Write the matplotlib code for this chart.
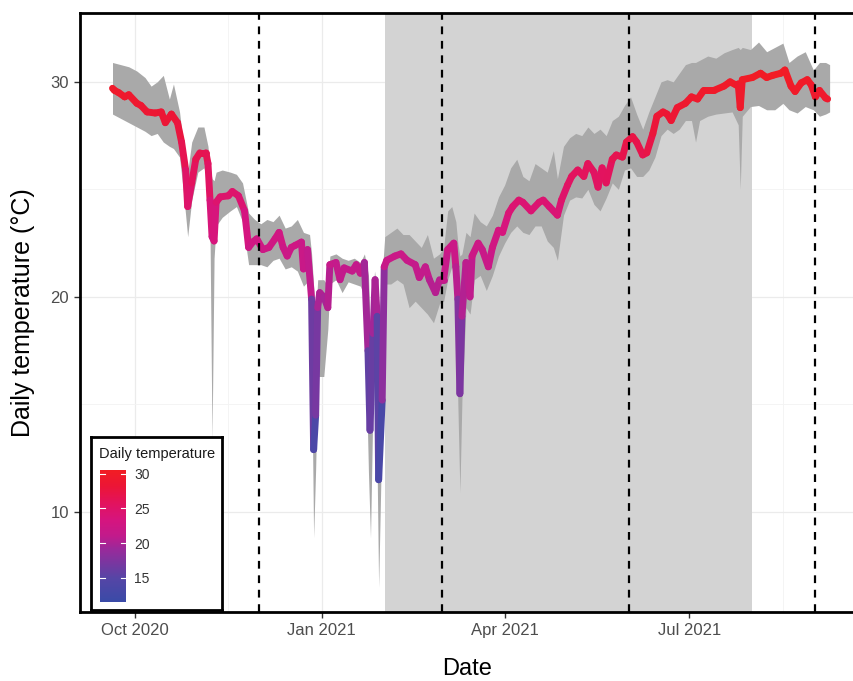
import matplotlib
matplotlib.use("Agg")
import matplotlib.pyplot as plt
import matplotlib.dates as mdates
from matplotlib.collections import LineCollection
from matplotlib.colors import LinearSegmentedColormap, Normalize
import numpy as np
import pandas as pd

plt.rcParams['font.family'] = ['Liberation Sans', 'DejaVu Sans']

# daily mean temperature (line)
line_dates = [
    "2020-09-20", "2020-09-21", "2020-09-23", "2020-09-26", "2020-09-28", "2020-10-02",
    "2020-10-04", "2020-10-07", "2020-10-11", "2020-10-14", "2020-10-16", "2020-10-19",
    "2020-10-22", "2020-10-24", "2020-10-26", "2020-10-27", "2020-10-29", "2020-10-31",
    "2020-11-02", "2020-11-05", "2020-11-06", "2020-11-07", "2020-11-08", "2020-11-09",
    "2020-11-10", "2020-11-12", "2020-11-16", "2020-11-18", "2020-11-21", "2020-11-24",
    "2020-11-26", "2020-11-28", "2020-11-30", "2020-12-03", "2020-12-06", "2020-12-09",
    "2020-12-11", "2020-12-13", "2020-12-15", "2020-12-17", "2020-12-19", "2020-12-22",
    "2020-12-23", "2020-12-25", "2020-12-27", "2020-12-28", "2020-12-29", "2020-12-30",
    "2020-12-31", "2021-01-02", "2021-01-04", "2021-01-05", "2021-01-08", "2021-01-10",
    "2021-01-12", "2021-01-16", "2021-01-18", "2021-01-20", "2021-01-22",
    "2021-01-23 18:00", "2021-01-24 18:00", "2021-01-26 06:00", "2021-01-27 06:00",
    "2021-01-28 06:00", "2021-01-29 00:00", "2021-01-30 18:00", "2021-01-31 18:00",
    "2021-02-02", "2021-02-06", "2021-02-09", "2021-02-12", "2021-02-16", "2021-02-18",
    "2021-02-21", "2021-02-23", "2021-02-26", "2021-02-28", "2021-03-02", "2021-03-04",
    "2021-03-07", "2021-03-08", "2021-03-09", "2021-03-10", "2021-03-11", "2021-03-13",
    "2021-03-15", "2021-03-16", "2021-03-19", "2021-03-21", "2021-03-24", "2021-03-26",
    "2021-03-29", "2021-03-31", "2021-04-03", "2021-04-05", "2021-04-08", "2021-04-10",
    "2021-04-14", "2021-04-18", "2021-04-20", "2021-04-23", "2021-04-27", "2021-04-29",
    "2021-05-02", "2021-05-04", "2021-05-07", "2021-05-10", "2021-05-12", "2021-05-15",
    "2021-05-17", "2021-05-19", "2021-05-21", "2021-05-24", "2021-05-26", "2021-05-29",
    "2021-05-31", "2021-06-03", "2021-06-05", "2021-06-08", "2021-06-10", "2021-06-13",
    "2021-06-15", "2021-06-18", "2021-06-20", "2021-06-22", "2021-06-25", "2021-06-29",
    "2021-07-02", "2021-07-05", "2021-07-08", "2021-07-13", "2021-07-18", "2021-07-21",
    "2021-07-24", "2021-07-25", "2021-07-26", "2021-07-27", "2021-08-01", "2021-08-05",
    "2021-08-08", "2021-08-11", "2021-08-15", "2021-08-17", "2021-08-20", "2021-08-22",
    "2021-08-25", "2021-08-28", "2021-08-30", "2021-09-01", "2021-09-03", "2021-09-06",
    "2021-09-07",
]
temp_mean = [
    29.7, 29.6, 29.5, 29.3, 29.4, 29.0,
    28.9, 28.6, 28.55, 28.6, 28.1, 28.5,
    28.1, 27.2, 25.9, 24.2, 25.3, 26.4,
    26.7, 26.7, 26.2, 24.5, 22.8, 22.6,
    24.4, 24.65, 24.7, 24.9, 24.7, 24.0,
    22.3, 22.55, 22.7, 22.2, 22.3, 22.7,
    23.0, 22.3, 21.9, 22.3, 22.4, 22.55,
    21.3, 22.2, 19.9, 12.9, 14.5, 19.5,
    20.2, 20.0, 19.5, 21.5, 21.6, 20.8,
    21.35, 21.2, 21.5, 21.1, 21.6,
    17.5, 13.8, 18.3, 20.8,
    19.1, 11.5, 15.2, 21.4,
    21.7, 21.9, 22.0, 21.7, 21.5, 20.9,
    21.4, 20.8, 20.2, 20.8, 20.8, 22.2,
    22.5, 21.4, 19.9, 15.5, 19.1, 21.6,
    20.0, 21.9, 22.5, 22.2, 21.4, 22.3,
    23.1, 23.0, 23.9, 24.2, 24.5, 24.4,
    24.0, 24.4, 24.5, 24.2, 23.8, 24.5,
    25.2, 25.6, 25.9, 25.6, 26.2, 25.8,
    25.1, 26.0, 25.3, 26.4, 26.6, 26.5,
    27.2, 27.45, 27.2, 26.6, 26.7, 27.6,
    28.4, 28.6, 28.5, 28.2, 28.8, 29.0,
    29.3, 29.2, 29.6, 29.6, 29.8, 30.0,
    29.85, 29.9, 28.8, 30.1, 30.2, 30.4,
    30.2, 30.3, 30.4, 30.55, 29.8, 29.55,
    29.95, 30.1, 29.85, 29.3, 29.6, 29.25,
    29.2,
]

# min / max envelope (grey ribbon)
band_dates = [
    "2020-09-20", "2020-09-24", "2020-09-28", "2020-10-02", "2020-10-06", "2020-10-09",
    "2020-10-12", "2020-10-15", "2020-10-18", "2020-10-20", "2020-10-23", "2020-10-25",
    "2020-10-27", "2020-10-29", "2020-11-01", "2020-11-04", "2020-11-06", "2020-11-07",
    "2020-11-08", "2020-11-09", "2020-11-10", "2020-11-13", "2020-11-17", "2020-11-20",
    "2020-11-23", "2020-11-26", "2020-11-29", "2020-12-02", "2020-12-05", "2020-12-08",
    "2020-12-11", "2020-12-14", "2020-12-17", "2020-12-20", "2020-12-23", "2020-12-26",
    "2020-12-27", "2020-12-28", "2020-12-29", "2020-12-30", "2021-01-02", "2021-01-04",
    "2021-01-05", "2021-01-08", "2021-01-11", "2021-01-14", "2021-01-17", "2021-01-20",
    "2021-01-22", "2021-01-24", "2021-01-25", "2021-01-26", "2021-01-27", "2021-01-28",
    "2021-01-29", "2021-01-30", "2021-02-01", "2021-02-04", "2021-02-07", "2021-02-10",
    "2021-02-13", "2021-02-16", "2021-02-19", "2021-02-22", "2021-02-25", "2021-02-28",
    "2021-03-02", "2021-03-04", "2021-03-06", "2021-03-08", "2021-03-09", "2021-03-10",
    "2021-03-11", "2021-03-13", "2021-03-15", "2021-03-17", "2021-03-20", "2021-03-23",
    "2021-03-26", "2021-03-29", "2021-04-01", "2021-04-04", "2021-04-07", "2021-04-10",
    "2021-04-13", "2021-04-16", "2021-04-19", "2021-04-22", "2021-04-25", "2021-04-27",
    "2021-04-30", "2021-05-03", "2021-05-06", "2021-05-09", "2021-05-12", "2021-05-15",
    "2021-05-18", "2021-05-21", "2021-05-24", "2021-05-27", "2021-05-30", "2021-06-02",
    "2021-06-05", "2021-06-08", "2021-06-11", "2021-06-14", "2021-06-17", "2021-06-20",
    "2021-06-23", "2021-06-26", "2021-06-29", "2021-07-02", "2021-07-04", "2021-07-06",
    "2021-07-10", "2021-07-14", "2021-07-18", "2021-07-22", "2021-07-25", "2021-07-26",
    "2021-07-27", "2021-07-31", "2021-08-04", "2021-08-08", "2021-08-12", "2021-08-16",
    "2021-08-19", "2021-08-23", "2021-08-27", "2021-08-31", "2021-09-03", "2021-09-06",
    "2021-09-08",
]
temp_min = [
    28.5, 28.3, 28.1, 27.9, 27.7, 27.5,
    27.6, 27.2, 27.0, 26.9, 26.5, 24.8,
    22.8, 24.5, 25.8, 26.0, 25.4, 23.0,
    13.3, 21.8, 23.3, 23.7, 24.0, 24.2,
    23.5, 21.5, 21.5, 21.5, 21.4, 21.7,
    21.8, 21.3, 21.4, 21.2, 20.5, 20.8,
    17.0, 8.8, 12.0, 16.3, 16.3, 18.5,
    20.6, 20.8, 20.2, 20.7, 20.6, 20.5,
    20.0, 11.8, 8.8, 14.0, 19.5, 14.0,
    6.5, 11.0, 20.6, 20.6, 20.8, 20.6,
    19.5, 19.8, 19.5, 19.2, 18.8, 19.7,
    19.8, 20.8, 21.4, 20.5, 15.0, 10.9,
    15.2, 19.5, 19.2, 20.8, 21.0, 20.3,
    21.0, 21.9, 22.5, 23.0, 23.3, 23.0,
    22.9, 23.3, 23.3, 22.6, 22.3, 21.7,
    23.8, 24.5, 24.65, 24.6, 25.0, 24.3,
    24.0, 24.6, 25.3, 25.0, 25.9, 26.0,
    25.6, 25.6, 25.9, 26.5, 27.5, 27.8,
    27.6, 27.8, 28.2, 28.2, 27.2, 28.2,
    28.4, 28.5, 28.55, 28.6, 28.0, 25.0,
    28.4, 28.85, 28.9, 28.7, 28.7, 29.0,
    28.7, 28.55, 28.85, 28.7, 28.4, 28.5,
    28.6,
]
temp_max = [
    30.9, 30.8, 30.7, 30.5, 30.2, 29.8,
    30.0, 30.3, 29.2, 29.9, 28.6, 27.0,
    25.8, 27.2, 27.9, 27.9, 27.0, 26.0,
    25.5, 25.4, 25.8, 25.9, 25.8, 25.7,
    25.3, 23.9, 23.6, 23.4, 23.6, 23.5,
    23.8, 23.2, 23.3, 23.6, 23.0, 22.9,
    22.0, 20.5, 19.0, 20.8, 20.8, 20.5,
    21.9, 22.0, 21.8, 21.7, 21.8, 21.6,
    22.0, 21.0, 18.0, 20.0, 21.2, 20.5,
    17.5, 20.0, 22.8, 23.0, 23.2, 22.9,
    22.9, 22.6, 22.3, 22.9, 21.8, 22.0,
    22.3, 24.0, 24.2, 23.5, 22.5, 21.9,
    22.0, 23.0, 22.8, 23.9, 23.5, 23.3,
    23.8, 24.65, 25.2, 26.0, 26.4, 25.6,
    25.4, 26.2, 26.0, 25.8, 26.8, 25.5,
    27.0, 27.4, 27.6, 27.5, 27.9, 27.6,
    27.8, 27.5, 28.2, 28.4, 28.9, 29.3,
    28.5, 27.8, 28.6, 29.3, 30.0, 30.1,
    30.0, 30.4, 30.8, 30.9, 30.9, 31.0,
    31.2, 31.1, 31.35, 31.5, 31.6, 31.5,
    31.6, 31.5, 31.85, 31.4, 31.6, 31.8,
    30.9, 31.2, 31.4, 30.55, 30.9, 30.9,
    30.8,
]

season_breaks = ["2020-12-01", "2021-03-01", "2021-06-01", "2021-09-01"]
shade_start, shade_end = "2021-02-01", "2021-08-01"
legend_ticks = [15, 20, 25, 30]

x_line = mdates.date2num(pd.to_datetime(line_dates, format="mixed"))
y_line = np.array(temp_mean)
x_band = mdates.date2num(pd.to_datetime(band_dates, format="mixed"))

cmap = LinearSegmentedColormap.from_list("temp", [
    (0.0, "#3A4BA8"), (0.18, "#5646A6"), (0.40, "#9A2A9B"),
    (0.50, "#C21B8C"), (0.62, "#D6157F"), (0.75, "#E3135E"),
    (0.88, "#EC1636"), (1.0, "#F21D24")])
norm = Normalize(vmin=y_line.min(), vmax=y_line.max())

fig = plt.figure(figsize=(8.54, 6.81), dpi=100)
ax = fig.add_axes([80 / 854, 1 - 612 / 681, 1 - 80 / 854, (612 - 13) / 681])

# grid
for d in ["2020-10-01", "2021-01-01", "2021-04-01", "2021-07-01"]:
    ax.axvline(mdates.datestr2num(d), color="#EBEBEB", lw=0.9, zorder=0)
for d in ["2020-11-16", "2021-02-15", "2021-05-16", "2021-08-16"]:
    ax.axvline(mdates.datestr2num(d), color="#F3F3F3", lw=0.6, zorder=0)
for v in [10, 20, 30]:
    ax.axhline(v, color="#EBEBEB", lw=0.9, zorder=0)
for v in [15, 25]:
    ax.axhline(v, color="#F3F3F3", lw=0.6, zorder=0)

ax.axvspan(mdates.datestr2num(shade_start), mdates.datestr2num(shade_end),
           color="#D3D3D3", lw=0, zorder=1)
ax.fill_between(x_band, temp_min, temp_max, color="#A9A9A9", lw=0, zorder=2)

pts = np.column_stack([x_line, y_line]).reshape(-1, 1, 2)
segs = np.concatenate([pts[:-1], pts[1:]], axis=1)
lc = LineCollection(segs, cmap=cmap, norm=norm, linewidths=5,
                    capstyle="round", joinstyle="round", zorder=3)
lc.set_array((y_line[:-1] + y_line[1:]) / 2)
ax.add_collection(lc)

for d in season_breaks:
    ax.axvline(mdates.datestr2num(d), color="black", lw=1.6,
               linestyle=(0, (3.5, 3)), zorder=4)

ax.set_xlim(mdates.datestr2num("2020-09-04"), mdates.datestr2num("2021-09-20"))
ax.set_ylim(5.35, 33.2)
ax.xaxis.set_major_locator(mdates.MonthLocator(bymonth=[1, 4, 7, 10]))
ax.xaxis.set_major_formatter(mdates.DateFormatter("%b %Y"))
ax.set_yticks([10, 20, 30])
ax.tick_params(axis="both", length=4, width=1, color="#333333",
               labelcolor="#4D4D4D", labelsize=12, pad=4)
for s in ["left", "top", "bottom"]:
    ax.spines[s].set_linewidth(2)
    ax.spines[s].set_color("black")
ax.spines["right"].set_visible(False)
ax.set_xlabel("Date", fontsize=17, labelpad=14)
ax.set_ylabel("Daily temperature (°C)", fontsize=18, labelpad=11)

# colour legend inside the panel
box = fig.add_axes([91 / 854, 1 - 610 / 681, 131 / 854, 173 / 681])
box.set_xticks([])
box.set_yticks([])
for s in box.spines.values():
    s.set_linewidth(2)
box.set_zorder(5)
box.text(8 / 131, 1 - 17 / 173, "Daily temperature", fontsize=10.5,
         color="#1A1A1A", transform=box.transAxes, va="center", ha="left")

cax = fig.add_axes([100 / 854, 1 - 602 / 681, 26 / 854, 132 / 681])
cax.set_zorder(6)
grad = np.linspace(norm.vmin, norm.vmax, 256).reshape(-1, 1)
cax.imshow(grad, cmap=cmap, norm=norm, aspect="auto", origin="lower",
           extent=[0, 1, norm.vmin, norm.vmax])
for v in legend_ticks:
    cax.plot([0, 0.2], [v, v], color="white", lw=0.8)
    cax.plot([0.8, 1], [v, v], color="white", lw=0.8)
cax.set_xlim(0, 1)
cax.set_ylim(norm.vmin, norm.vmax)
cax.set_xticks([])
cax.yaxis.tick_right()
cax.set_yticks(legend_ticks)
cax.tick_params(axis="y", length=0, pad=6, labelsize=10, labelcolor="#333333")
for s in cax.spines.values():
    s.set_visible(False)

fig.savefig("out.png", dpi=100)
